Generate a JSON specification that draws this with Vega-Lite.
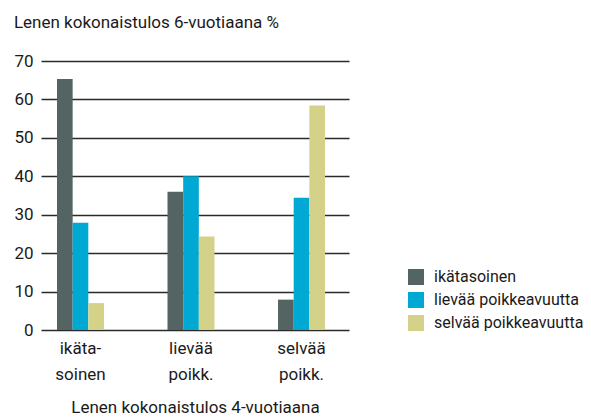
{
  "$schema": "https://vega.github.io/schema/vega-lite/v6.json",
  "width": 308,
  "height": 269,
  "padding": {"left": 13, "top": 14, "right": 5, "bottom": 0},
  "background": "white",
  "config": {
    "font": "Roboto",
    "view": {"stroke": null}
  },
  "title": {
    "text": "Lenen kokonaistulos 6-vuotiaana %",
    "anchor": "start",
    "frame": "bounds",
    "fontSize": 17,
    "fontWeight": "normal",
    "color": "#1a1a1a",
    "offset": 20
  },
  "data": {
    "values": [
      {"group": "ikäta-\nsoinen", "series": "ikätasoinen", "value": 65.3},
      {"group": "ikäta-\nsoinen", "series": "lievää poikkeavuutta", "value": 27.9},
      {"group": "ikäta-\nsoinen", "series": "selvää poikkeavuutta", "value": 7.0},
      {"group": "lievää\npoikk.", "series": "ikätasoinen", "value": 36.0},
      {"group": "lievää\npoikk.", "series": "lievää poikkeavuutta", "value": 40.0},
      {"group": "lievää\npoikk.", "series": "selvää poikkeavuutta", "value": 24.3},
      {"group": "selvää\npoikk.", "series": "ikätasoinen", "value": 7.9},
      {"group": "selvää\npoikk.", "series": "lievää poikkeavuutta", "value": 34.4},
      {"group": "selvää\npoikk.", "series": "selvää poikkeavuutta", "value": 58.4}
    ]
  },
  "mark": {"type": "bar"},
  "encoding": {
    "x": {
      "field": "group",
      "type": "nominal",
      "sort": null,
      "scale": {"paddingInner": 0.575, "paddingOuter": 0.181, "align": 0.4},
      "axis": {
        "title": "Lenen kokonaistulos 4-vuotiaana",
        "titleFontSize": 17,
        "titleFontWeight": "normal",
        "titleColor": "#1a1a1a",
        "titlePadding": 17,
        "labelAngle": 0,
        "labelFontSize": 17,
        "labelColor": "#1a1a1a",
        "labelLineHeight": 26,
        "labelPadding": 10,
        "labelExpr": "split(datum.label, '\\n')",
        "ticks": false,
        "domain": false
      }
    },
    "xOffset": {
      "field": "series",
      "type": "nominal",
      "scale": {"paddingInner": 0, "paddingOuter": 0}
    },
    "y": {
      "field": "value",
      "type": "quantitative",
      "scale": {"domain": [0, 70]},
      "axis": {
        "title": null,
        "values": [0, 10, 20, 30, 40, 50, 60, 70],
        "labelFontSize": 17,
        "labelColor": "#1a1a1a",
        "labelPadding": 8,
        "ticks": false,
        "domain": false,
        "grid": true,
        "gridColor": "#2a2a2a",
        "gridWidth": 1.5
      }
    },
    "color": {
      "field": "series",
      "type": "nominal",
      "scale": {
        "domain": ["ikätasoinen", "lievää poikkeavuutta", "selvää poikkeavuutta"],
        "range": ["#536463", "#00a9d4", "#d4d288"]
      },
      "legend": {
        "title": null,
        "orient": "none",
        "legendX": 367,
        "legendY": 208,
        "symbolType": "square",
        "symbolSize": 256,
        "symbolStrokeWidth": 0,
        "symbolOpacity": 1,
        "labelFontSize": 16,
        "labelColor": "#1a1a1a",
        "labelOffset": 10,
        "rowPadding": 7
      }
    }
  }
}
